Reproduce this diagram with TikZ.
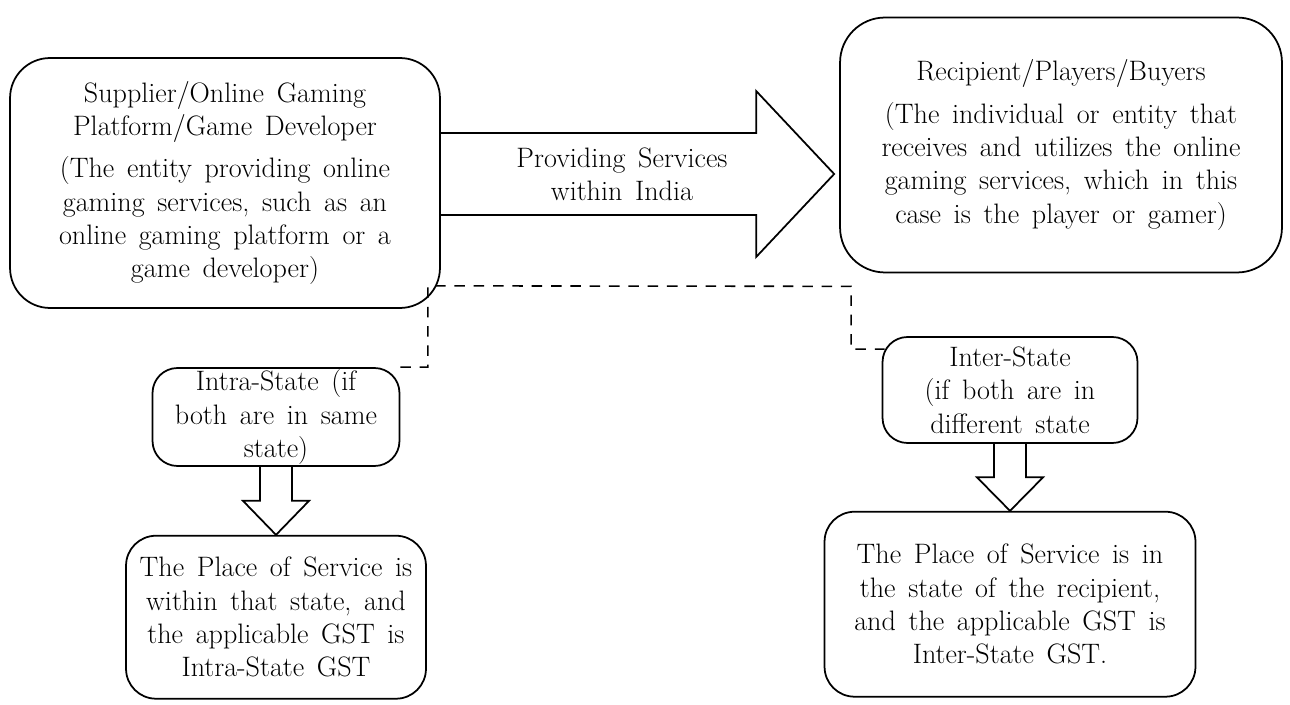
\documentclass[tikz,border=0pt]{standalone}
\usetikzlibrary{positioning, calc}
\newcommand\diagfont{\fontsize{16}{19}\selectfont\spaceskip=0.45em plus 0.1em\relax}
\tikzset{
    box/.style={
        draw,
        line width=1pt,
        rounded corners=0.8cm,
        align=center,
        inner sep=0pt
    },
    smallbox/.style={
        draw,
        line width=1pt,
        rounded corners=0.5cm,
        align=center,
        inner sep=0pt
    },
    gstbox/.style={
        draw,
        line width=1pt,
        rounded corners=0.6cm,
        align=center,
        inner sep=0pt
    },
    blockarrow/.style={draw, line width=1pt, line join=miter},
    dashedline/.style={line width=0.9pt, dash pattern=on 6pt off 5pt},
    arrowtext/.style={align=center},
    every node/.style={font=\diagfont}
}

\begin{document}
\begin{tikzpicture}[x=0.02cm, y=-0.02cm]
\useasboundingbox (0,0) rectangle (1290,705);

% supplier and recipient
\node[box, minimum width=8.6cm, minimum height=5cm] (sup) at (225,183)
    {Supplier/Online Gaming\\ Platform/Game Developer\\[5pt]
     (The entity providing online\\ gaming services, such as an\\
     online gaming platform or a\\ game developer)};
\node[box, rounded corners=0.9cm, minimum width=8.84cm, minimum height=5.1cm] (rec) at (1061,145)
    {Recipient/Players/Buyers\\[5pt]
     (The individual or entity that\\ receives and utilizes the online\\
     gaming services, which in this\\ case is the player or gamer)};

% big arrow between them
\node[arrowtext] (prov) at (622,174) {Providing Services\\ within India};
\coordinate (tail) at (sup.east |- prov);
\coordinate (tip) at ($(rec.west |- prov)+(-5,0)$);
\draw[blockarrow] ($(tail)+(0,-41)$) -- ($(tip)+(-78,-41)$) -- ($(tip)+(-78,-83)$)
    -- (tip) -- ($(tip)+(-78,83)$) -- ($(tip)+(-78,41)$) -- ($(tail)+(0,41)$);

% the two cases
\node[smallbox, minimum width=4.94cm, minimum height=1.96cm] (intra) at (276,417)
    {Intra-State (if\\ both are in same\\ state)};
\node[smallbox, minimum width=5.1cm, minimum height=2.12cm] (inter) at (1010,390)
    {Inter-State\\ (if both are in\\ different state};

\node[gstbox, minimum width=6cm, minimum height=3.26cm, below=1.36cm of intra] (intragst)
    {The Place of Service is\\ within that state, and\\ the applicable GST is\\ Intra-State GST};
\node[gstbox, minimum width=7.42cm, minimum height=3.7cm, below=1.34cm of inter] (intergst)
    {The Place of Service is in\\ the state of the recipient,\\ and the applicable GST is\\ Inter-State GST.};

% down arrows
\foreach \a/\b in {intra/intragst, inter/intergst} {
    \coordinate (top) at (\a.south);
    \coordinate (end) at (\a.south |- \b.north);
    \draw[blockarrow] ($(top)+(-16,0)$) -- ($(top)!0.5!(end)+(-16,0)$) -- ($(top)!0.5!(end)+(-33,0)$)
        -- (end) -- ($(top)!0.5!(end)+(33,0)$) -- ($(top)!0.5!(end)+(16,0)$) -- ($(top)+(16,0)$);
}

% dashed split
\coordinate (split) at ($(sup.south east)+(-13,-23)$);
\coordinate (join) at ($(rec.south west)+(12,13)$);
\draw[dashedline] (intra.north east) -| (split) -- (join) |- ($(inter.north west)+(3,13)$);
\end{tikzpicture}
\end{document}
